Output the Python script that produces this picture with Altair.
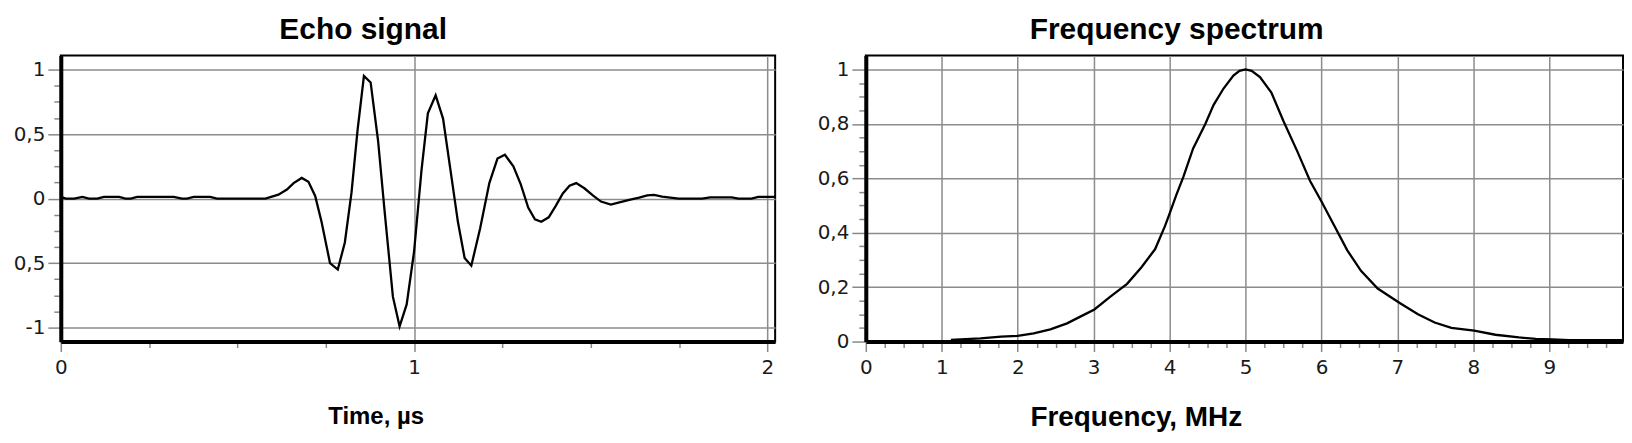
import altair as alt
import pandas as pd

# ---------------- data ----------------
time_us = [0, 0.014, 0.038, 0.061, 0.08, 0.103, 0.122, 0.165, 0.183, 0.198,
           0.216, 0.32, 0.343, 0.357, 0.376, 0.423, 0.442, 0.579, 0.616, 0.64,
           0.659, 0.682, 0.701, 0.72, 0.738, 0.762, 0.784, 0.804, 0.823, 0.84,
           0.858, 0.877, 0.898, 0.917, 0.94, 0.959, 0.979, 1.0, 1.021, 1.039,
           1.061, 1.082, 1.103, 1.124, 1.143, 1.162, 1.187, 1.213, 1.236, 1.257,
           1.281, 1.302, 1.323, 1.342, 1.36, 1.381, 1.401, 1.421, 1.44, 1.459,
           1.482, 1.506, 1.529, 1.557, 1.581, 1.609, 1.637, 1.66, 1.679, 1.702,
           1.725, 1.749, 1.815, 1.838, 1.899, 1.918, 1.955, 1.974, 2.022]
echo_amp = [0.013, 0, 0, 0.013, 0, 0, 0.013, 0.013, 0, 0,
            0.013, 0.013, 0, 0, 0.013, 0.013, 0, 0, 0.03, 0.07,
            0.12, 0.16, 0.13, 0.02, -0.18, -0.5, -0.55, -0.34, 0.05, 0.53,
            0.95, 0.9, 0.45, -0.11, -0.76, -0.99, -0.82, -0.41, 0.22, 0.66,
            0.8, 0.62, 0.22, -0.18, -0.46, -0.52, -0.23, 0.12, 0.31, 0.34,
            0.25, 0.11, -0.07, -0.16, -0.18, -0.145, -0.056, 0.04, 0.1, 0.12,
            0.08, 0.025, -0.023, -0.046, -0.03, -0.01, 0.008, 0.025, 0.028, 0.015,
            0.008, 0, 0, 0.01, 0.01, 0, 0, 0.013, 0.013]

freq_mhz = [1.12, 1.51, 1.78, 2.0, 2.21, 2.43, 2.65, 2.87, 3.01, 3.22,
            3.44, 3.63, 3.81, 3.94, 4.0, 4.09, 4.18, 4.31, 4.47, 4.58,
            4.71, 4.84, 4.92, 5.0, 5.08, 5.19, 5.34, 5.5, 5.68, 5.85,
            6.0, 6.16, 6.34, 6.52, 6.74, 7.03, 7.27, 7.49, 7.71, 8.01,
            8.29, 8.6, 8.82, 9.04, 9.26, 9.97]
spec_amp = [0.006, 0.012, 0.018, 0.021, 0.03, 0.045, 0.067, 0.098, 0.118, 0.165,
            0.212, 0.273, 0.34, 0.425, 0.47, 0.54, 0.604, 0.71, 0.8, 0.87,
            0.93, 0.978, 0.995, 1.0, 0.995, 0.972, 0.915, 0.81, 0.7, 0.59,
            0.515, 0.43, 0.335, 0.26, 0.195, 0.142, 0.1, 0.07, 0.05, 0.04,
            0.025, 0.015, 0.01, 0.008, 0.005, 0.005]

# tick positions and labels
echo_x_ticks = [0.25 * i for i in range(9)]
echo_x_major = [0, 1, 2]
echo_x_text = ["0", "1", "2"]
echo_y_ticks = [-1 + 0.125 * i for i in range(17)]
echo_y_major = [-1, -0.5, 0, 0.5, 1]
echo_y_text = ["-1", "0,5", "0", "0,5", "1"]

spec_x_ticks = [0.25 * i for i in range(40)]
spec_x_major = list(range(10))
spec_x_text = [str(i) for i in range(10)]
spec_y_ticks = [round(0.05 * i, 2) for i in range(21)]
spec_y_major = [0, 0.2, 0.4, 0.6, 0.8, 1]
spec_y_text = ["0", "0,2", "0,4", "0,6", "0,8", "1"]

echo_df = pd.DataFrame({"t": time_us, "a": echo_amp})
spec_df = pd.DataFrame({"f": freq_mhz, "a": spec_amp})


def is_major(values):
    return " || ".join(f"abs(datum.value - ({v})) < 1e-6" for v in values)


def label_expr(values, texts):
    expr = "''"
    for v, t in reversed(list(zip(values, texts))):
        expr = f"abs(datum.value - ({v})) < 1e-6 ? '{t}' : ({expr})"
    return expr


def make_axis(ticks, majors, texts, major_size, minor_size, grid_vals, **kw):
    return alt.Axis(
        values=ticks,
        labelExpr=label_expr(majors, texts),
        tickSize={"condition": {"test": is_major(majors), "value": major_size}, "value": minor_size},
        gridOpacity={"condition": {"test": is_major(grid_vals), "value": 1}, "value": 0},
        labelOverlap=False,
        labelFlush=False,
        **kw,
    )


TITLE_FONT = "Liberation Sans"

echo = alt.Chart(echo_df).mark_line(color="black", strokeWidth=2.3, clip=True).encode(
    x=alt.X("t:Q",
            scale=alt.Scale(domain=[0, 2.022], nice=False, zero=False),
            axis=make_axis(echo_x_ticks, echo_x_major, echo_x_text, 10, 6, echo_x_major,
                           title="Time, µs", titleX=316, titleY=82,
                           titleAlign="center", titleBaseline="alphabetic",
                           titleFont=TITLE_FONT, titleFontSize=24, titleFontWeight="bold",
                           titleColor="black", labelPadding=6)),
    y=alt.Y("a:Q",
            scale=alt.Scale(domain=[-1.108, 1.108], nice=False, zero=False),
            axis=make_axis(echo_y_ticks, echo_y_major, echo_y_text, 13, 7, echo_y_major,
                           title=None, labelPadding=3)),
).properties(
    width=717, height=287,
    title=alt.Title("Echo signal", dx=-55, anchor="middle", baseline="alphabetic", offset=-13),
)

spec = alt.Chart(spec_df).mark_line(color="black", strokeWidth=2.3, clip=True).encode(
    x=alt.X("f:Q",
            scale=alt.Scale(domain=[0, 9.97], nice=False, zero=False),
            axis=make_axis(spec_x_ticks, spec_x_major, spec_x_text, 10, 6, spec_x_major,
                           title="Frequency, MHz", titleX=271, titleY=84,
                           titleAlign="center", titleBaseline="alphabetic",
                           titleFont=TITLE_FONT, titleFontSize=28, titleFontWeight="bold",
                           titleColor="black", labelPadding=6)),
    y=alt.Y("a:Q",
            scale=alt.Scale(domain=[0, 1.051], nice=False, zero=False),
            axis=make_axis(spec_y_ticks, spec_y_major, spec_y_text, 14, 7, spec_y_major,
                           title=None, labelPadding=3)),
).properties(
    width=760, height=287,
    title=alt.Title("Frequency spectrum", dx=-68, anchor="middle", baseline="alphabetic", offset=-13),
)

chart = alt.hconcat(echo, spec, spacing=40).properties(
    padding={"left": 4, "top": 5, "right": 0, "bottom": 0}
).configure_view(
    stroke="black", strokeWidth=2
).configure_axis(
    domainColor="black", domainWidth=4,
    tickColor="#888888", tickWidth=1.5,
    gridColor="#8c8c8c", gridWidth=1.5,
    labelFont="DejaVu Sans", labelFontSize=20, labelColor="#1a1a1a",
).configure_title(
    font=TITLE_FONT, fontSize=30, fontWeight="bold", color="black"
)

chart.save("out.html", embed_options={"renderer": "svg", "actions": False})
